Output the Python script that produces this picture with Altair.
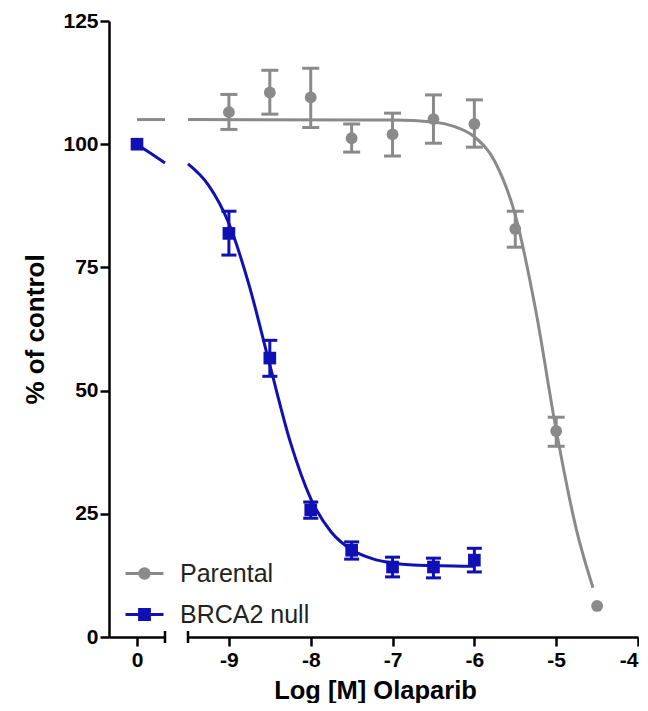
import altair as alt
import pandas as pd

FONT = "Liberation Sans"
GRAY = "#8a8a8a"
BLUE = "#1010b4"

# ---------------- data ----------------
series_names = ["Parental", "BRCA2 null"]

# Parental (mean, SEM bounds)
par_dose = [-9.0, -8.5, -8.0, -7.5, -7.0, -6.5, -6.0, -5.5, -5.0, -4.5]
par_mean = [106.5, 110.5, 109.5, 101.2, 102.0, 105.1, 104.1, 82.8, 41.8, 6.3]
par_lo = [103.0, 106.1, 103.4, 98.4, 97.6, 100.2, 99.4, 79.1, 38.7, None]
par_hi = [110.1, 115.0, 115.4, 104.1, 106.3, 110.0, 109.0, 86.4, 44.6, None]

# BRCA2 null
brca_dose = [-9.0, -8.5, -8.0, -7.5, -7.0, -6.5, -6.0]
brca_mean = [81.9, 56.6, 25.8, 17.6, 14.2, 14.2, 15.6]
brca_lo = [77.5, 52.9, 24.1, 15.8, 12.2, 12.0, 13.2]
brca_hi = [86.4, 60.2, 27.4, 19.3, 16.2, 16.0, 18.0]

# untreated control (drawn on the "0" segment)
ctrl_x = [0.0]
brca_ctrl = [100.0]

# fitted curves
par_curve_x = [-9.5, -7.0, -6.5, -6.25, -6.0, -5.75, -5.5, -5.25, -5.0, -4.75, -4.55]
par_curve_y = [105.0, 104.9, 104.5, 103.6, 101.5, 96.5, 85.6, 66.3, 42.0, 21.6, 10.0]
brca_curve_x = [-9.5, -9.25, -9.0, -8.75, -8.5, -8.25, -8.0, -7.75, -7.5, -7.25,
                -7.0, -6.75, -6.5, -6.25, -6.0]
brca_curve_y = [96.0, 91.7, 83.9, 71.2, 55.2, 39.6, 28.1, 21.3, 17.7, 15.9,
                15.0, 14.6, 14.5, 14.4, 14.35]

# curve pieces on the "0" segment (local segment coordinates)
seg_x = [0.0, 0.5, 1.0]
brca_seg_y = [100.0, 98.1, 96.2]
par_seg_x = [0.0, 1.0]
par_seg_y = [105.0, 105.0]

y_ticks = [0, 25, 50, 75, 100, 125]
x_ticks = [-9, -8, -7, -6, -5, -4]

# ---------------- frames ----------------
par_pts = pd.DataFrame({"x": par_dose, "y": par_mean, "lo": par_lo, "hi": par_hi})
par_err = par_pts.dropna()
brca_pts = pd.DataFrame({"x": brca_dose, "y": brca_mean, "lo": brca_lo, "hi": brca_hi})
par_curve = pd.DataFrame({"x": par_curve_x, "y": par_curve_y})
brca_curve = pd.DataFrame({"x": brca_curve_x, "y": brca_curve_y})
ctrl = pd.DataFrame({"x": ctrl_x, "y": brca_ctrl})
brca_seg = pd.DataFrame({"x": seg_x, "y": brca_seg_y})
par_seg = pd.DataFrame({"x": par_seg_x, "y": par_seg_y})
legend_df = pd.DataFrame({"series": series_names, "x": [0.0, 0.0], "y": [0.0, 0.0]})

H = 616
WL, WR = 56, 450

axis_style = dict(
    domainColor="black", domainWidth=2.5, tickColor="black", tickWidth=2.5,
    tickSize=9, labelFont=FONT, labelFontSize=21, labelFontWeight="bold",
    labelColor="black", titleFont=FONT, titleFontWeight="bold",
    titleColor="black", grid=False,
)

yscale = alt.Scale(domain=[0, 125], nice=False, zero=False)
y_axis = alt.Axis(values=y_ticks, title="% of control", labelPadding=2,
                  titlePadding=14, titleFontSize=26, **axis_style)

# ---------------- left ("0") segment ----------------
xl = alt.Scale(domain=[-1, 1], nice=False, zero=False)
xl_axis = alt.Axis(values=[0], title=None, labelPadding=3, **axis_style)

l_par_line = alt.Chart(par_seg).mark_line(color=GRAY, strokeWidth=3).encode(
    x=alt.X("x:Q", scale=xl, axis=xl_axis),
    y=alt.Y("y:Q", scale=yscale, axis=y_axis),
)
l_brca_line = alt.Chart(brca_seg).mark_line(color=BLUE, strokeWidth=3, interpolate="monotone").encode(
    x=alt.X("x:Q", scale=xl), y=alt.Y("y:Q", scale=yscale)
)
l_ctrl = alt.Chart(ctrl).mark_point(shape="square", filled=True, color=BLUE, size=160, opacity=1).encode(
    x=alt.X("x:Q", scale=xl), y=alt.Y("y:Q", scale=yscale)
)
l_break = alt.Chart(ctrl).mark_rule(color="black", strokeWidth=2.5).encode(
    x=alt.datum(1), y=alt.value(H - 6), y2=alt.value(H + 6)
)

circle_path = "M-1,0L1,0M-0.25,0A0.25,0.25,0,1,1,0.25,0A0.25,0.25,0,1,1,-0.25,0Z"
square_path = "M-1,0L1,0M-0.26,-0.26L0.26,-0.26L0.26,0.26L-0.26,0.26Z"
leg = alt.Legend(orient="none", legendX=15, legendY=532, title=None,
                 labelFont=FONT, labelFontSize=25, labelColor="#222222",
                 symbolSize=1444, symbolStrokeWidth=3, padding=0, rowPadding=7,
                 labelOffset=15)
l_legend = alt.Chart(legend_df).transform_filter("false").mark_point(filled=True, opacity=1).encode(
    x=alt.X("x:Q", scale=xl), y=alt.Y("y:Q", scale=yscale),
    fill=alt.Fill("series:N", scale=alt.Scale(domain=series_names, range=[GRAY, BLUE]), legend=leg),
    stroke=alt.Stroke("series:N", scale=alt.Scale(domain=series_names, range=[GRAY, BLUE]), legend=leg),
    shape=alt.Shape("series:N", scale=alt.Scale(domain=series_names, range=[circle_path, square_path]), legend=leg),
)

left = alt.layer(l_par_line, l_brca_line, l_ctrl, l_break, l_legend).properties(width=WL, height=H)

# ---------------- right (log dose) segment ----------------
xr = alt.Scale(domain=[-9.5, -4], nice=False, zero=False)
xr_axis = alt.Axis(values=x_ticks, labelExpr="'' + datum.value", labelFlush=True,
                   title="Log [M] Olaparib", titleFontSize=25.5, labelPadding=3,
                   titleX=187, titleY=41, titleBaseline="top", **axis_style)
Y_none = alt.Y("y:Q", scale=yscale, axis=None)

r_par_curve = alt.Chart(par_curve).mark_line(color=GRAY, strokeWidth=3, interpolate="monotone").encode(
    x=alt.X("x:Q", scale=xr, axis=xr_axis), y=Y_none)
r_brca_curve = alt.Chart(brca_curve).mark_line(color=BLUE, strokeWidth=3, interpolate="monotone").encode(
    x=alt.X("x:Q", scale=xr), y=Y_none)

def errs(df, color, cap):
    bar = alt.Chart(df).mark_rule(color=color, strokeWidth=3).encode(
        x=alt.X("x:Q", scale=xr), y=alt.Y("lo:Q", scale=yscale, axis=None), y2="hi:Q")
    top = alt.Chart(df).mark_tick(color=color, orient="horizontal", size=cap, thickness=3, opacity=1).encode(
        x=alt.X("x:Q", scale=xr), y=alt.Y("hi:Q", scale=yscale, axis=None))
    bot = alt.Chart(df).mark_tick(color=color, orient="horizontal", size=cap, thickness=3, opacity=1).encode(
        x=alt.X("x:Q", scale=xr), y=alt.Y("lo:Q", scale=yscale, axis=None))
    return [bar, top, bot]

r_par_pts = alt.Chart(par_pts).mark_point(shape="circle", filled=True, color=GRAY, size=140, opacity=1).encode(
    x=alt.X("x:Q", scale=xr), y=Y_none)
r_brca_pts = alt.Chart(brca_pts).mark_point(shape="square", filled=True, color=BLUE, size=160, opacity=1).encode(
    x=alt.X("x:Q", scale=xr), y=Y_none)
r_break = alt.Chart(ctrl).mark_rule(color="black", strokeWidth=2.5).encode(
    x=alt.datum(-9.5), y=alt.value(H - 6), y2=alt.value(H + 6)
)

right = alt.layer(
    r_par_curve, r_brca_curve,
    *errs(par_err, GRAY, 17), r_par_pts,
    *errs(brca_pts, BLUE, 15), r_brca_pts,
    r_break,
).properties(width=WR, height=H)

chart = alt.hconcat(left, right, spacing=11).properties(
    padding={"left": 14, "top": 2, "right": -1, "bottom": -1},
    background="white",
).configure_view(stroke=None)

chart.save("out.html", embed_options={"renderer": "svg", "actions": False})
